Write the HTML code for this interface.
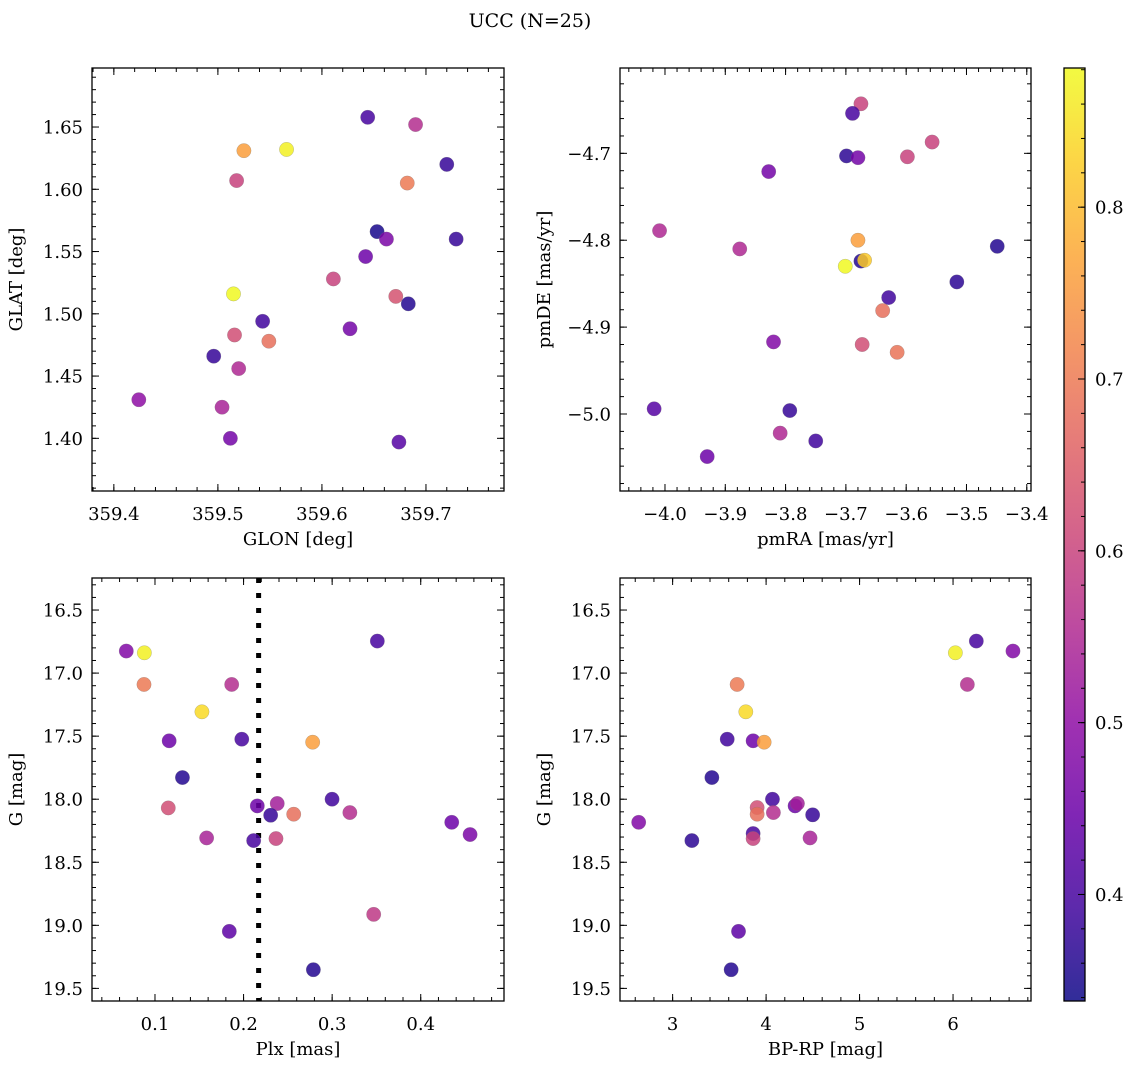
<!DOCTYPE html>
<html><head><meta charset="utf-8"><style>
html,body{margin:0;padding:0;background:#fff;}
svg{display:block;font-family:"DejaVu Serif","Liberation Serif",serif;}
</style></head><body>
<svg id="fig" width="1136" height="1068" viewBox="0 0 1136 1068" xmlns="http://www.w3.org/2000/svg">
<text x="530" y="27" font-size="19" text-anchor="middle">UCC (N=25)</text>
</svg>
<script>
// ---- Panel 1: GLON vs GLAT
const glonTL = [359.644,359.690,359.525,359.566,359.720,359.518,359.682,359.653,359.662,359.729,359.642,359.611,359.515,359.671,359.683,359.543,359.627,359.516,359.549,359.496,359.520,359.424,359.504,359.512,359.674];
const glatTL = [1.6578,1.652,1.631,1.632,1.620,1.607,1.605,1.566,1.560,1.560,1.546,1.528,1.516,1.514,1.508,1.494,1.488,1.483,1.478,1.466,1.456,1.431,1.425,1.400,1.397];
const colTL  = [0.40,0.56,0.76,0.87,0.38,0.60,0.70,0.35,0.47,0.38,0.45,0.60,0.88,0.63,0.36,0.39,0.46,0.62,0.68,0.38,0.55,0.50,0.54,0.46,0.42];
// ---- Panel 2: pmRA vs pmDE
const pmraTR = [-3.675,-3.689,-3.557,-3.699,-3.680,-3.598,-3.828,-4.009,-3.876,-3.680,-3.675,-3.669,-3.701,-3.449,-3.516,-3.629,-3.639,-3.820,-3.673,-3.615,-4.018,-3.793,-3.809,-3.750,-3.930];
const pmdeTR = [-4.643,-4.654,-4.687,-4.703,-4.705,-4.704,-4.721,-4.789,-4.810,-4.800,-4.824,-4.823,-4.830,-4.807,-4.848,-4.866,-4.881,-4.917,-4.920,-4.929,-4.994,-4.996,-5.022,-5.031,-5.049];
const colTR  = [0.60,0.40,0.60,0.37,0.46,0.60,0.46,0.55,0.55,0.76,0.36,0.82,0.88,0.36,0.37,0.39,0.68,0.48,0.62,0.69,0.42,0.38,0.55,0.39,0.45];
// ---- Panel 3: Plx vs G
const plxBL = [0.0676,0.088,0.0876,0.1866,0.153,0.116,0.198,0.278,0.351,0.131,0.115,0.2155,0.238,0.2306,0.2566,0.2999,0.320,0.1583,0.2114,0.2366,0.435,0.4557,0.3469,0.1839,0.2788];
const gBL   = [16.825,16.839,17.090,17.090,17.307,17.537,17.524,17.548,16.746,17.828,18.069,18.053,18.034,18.127,18.119,18.0,18.106,18.307,18.328,18.312,18.183,18.280,18.913,19.048,19.352];
const colBL = [0.48,0.87,0.70,0.56,0.84,0.45,0.40,0.76,0.40,0.36,0.62,0.45,0.53,0.38,0.68,0.39,0.56,0.54,0.40,0.60,0.45,0.47,0.58,0.43,0.36];
const plxLine = [0.217];
// ---- Panel 4: BP-RP vs G
const bprpBR = [2.637,3.206,3.420,3.584,3.690,3.783,3.861,3.979,3.705,3.626,3.861,3.861,3.904,3.904,4.068,4.078,4.310,4.335,4.498,4.470,6.025,6.249,6.641,6.153];
const gBR    = [18.183,18.328,17.828,17.524,17.090,17.307,17.537,17.548,19.048,19.352,18.272,18.312,18.066,18.119,18.0,18.106,18.053,18.034,18.124,18.307,16.839,16.746,16.825,17.090];
const colBR  = [0.48,0.37,0.36,0.39,0.70,0.84,0.45,0.76,0.43,0.36,0.40,0.60,0.62,0.68,0.39,0.56,0.45,0.53,0.38,0.54,0.87,0.40,0.48,0.56];
// ---- Tick labels
const ticksTLx = [359.4,359.5,359.6,359.7];
const ticksTLy = [1.40,1.45,1.50,1.55,1.60,1.65];
const ticksTRx = [-4.0,-3.9,-3.8,-3.7,-3.6,-3.5,-3.4];
const ticksTRy = [-5.0,-4.9,-4.8,-4.7];
const ticksBLx = [0.1,0.2,0.3,0.4];
const ticksGy  = [16.5,17.0,17.5,18.0,18.5,19.0,19.5];
const ticksBRx = [3,4,5,6];
const ticksCB  = [0.4,0.5,0.6,0.7,0.8];

const NS = "http://www.w3.org/2000/svg";
const svg = document.getElementById('fig');
const FS = 18;
function mk(tag, attrs, parent){ const e=document.createElementNS(NS,tag); for(const k in attrs) e.setAttribute(k,attrs[k]); (parent||svg).appendChild(e); return e; }
const VMIN=0.338, VMAX=0.881;
const plasma=[[13,8,135],[65,4,157],[106,0,168],[143,13,164],[177,42,144],[204,71,120],[225,100,98],[242,132,75],[252,166,54],[252,206,37],[240,249,33]];
function cmap(v){ let t=(v-VMIN)/(VMAX-VMIN); t=Math.max(0,Math.min(1,t))*10; const i=Math.min(9,Math.floor(t)), f=t-i; const a=plasma[i],b=plasma[i+1]; return `rgb(${a.map((c,k)=>Math.round(c+(b[k]-c)*f)).join(',')})`; }
function fmt(v,d){ return (v<0?'\u2212':'')+Math.abs(v).toFixed(d); }

function panel(o){
  const g=mk('g',{});
  
  
  const X=v=>o.L+(v-o.x0)/(o.x1-o.x0)*(o.R-o.L);
  const Y=v=>o.inv ? o.T+(v-o.y0)/(o.y1-o.y0)*(o.B-o.T) : o.B-(v-o.y0)/(o.y1-o.y0)*(o.B-o.T);
  const tk=mk('g',{stroke:'#000','stroke-width':1},g);
  
  
  for(let v=Math.ceil(o.x0/o.xm-1e-6)*o.xm; v<=o.x1; v+=o.xm){ const x=X(v); mk('line',{x1:x,x2:x,y1:o.B,y2:o.B-4},tk); mk('line',{x1:x,x2:x,y1:o.T,y2:o.T+4},tk); }
  for(let v=Math.ceil(Math.min(o.y0,o.y1)/o.ym-1e-6)*o.ym; v<=Math.max(o.y0,o.y1); v+=o.ym){ const y=Y(v); mk('line',{x1:o.L,x2:o.L+4,y1:y,y2:y},tk); mk('line',{x1:o.R,x2:o.R-4,y1:y,y2:y},tk); }
  o.xt.forEach(v=>{ const x=X(v); mk('line',{x1:x,x2:x,y1:o.B,y2:o.B-7},tk); mk('line',{x1:x,x2:x,y1:o.T,y2:o.T+7},tk);
    const t=mk('text',{x:x,y:o.B+29,'font-size':FS,'text-anchor':'middle'},g); t.textContent=fmt(v,o.xd);
      });
  o.yt.forEach(v=>{ const y=Y(v); mk('line',{x1:o.L,x2:o.L+7,y1:y,y2:y},tk); mk('line',{x1:o.R,x2:o.R-7,y1:y,y2:y},tk);
    const t=mk('text',{x:o.L-9,y:y+6.5,'font-size':FS,'text-anchor':'end'},g); t.textContent=fmt(v,o.yd);
      });
  if(o.vline){ o.vline.forEach(v=>{ const l=mk('line',{x1:X(v),x2:X(v),y1:o.T,y2:o.B,stroke:'#000','stroke-width':5,'stroke-dasharray':'5 10'},g);
      }); }
  const pts=mk('g',{},g);
  
  
  o.xs.forEach((xv,i)=>{ const c=mk('circle',{cx:X(xv),cy:Y(o.ys[i]),r:7.2,fill:cmap(o.cs[i]),'fill-opacity':0.85,stroke:'#777','stroke-width':0.4,'stroke-opacity':0.6},pts);
      });
  const f=mk('rect',{x:o.L,y:o.T,width:o.R-o.L,height:o.B-o.T,fill:'none',stroke:'#000','stroke-width':1.3},g);
   
  const xl=mk('text',{x:(o.L+o.R)/2,y:o.B+54,'font-size':FS,'text-anchor':'middle'},g); xl.textContent=o.xlab;
   
  const yx=o.L-o.ylo, yy=(o.T+o.B)/2;
  const yl=mk('text',{x:yx,y:yy,'font-size':FS,'text-anchor':'middle',transform:`rotate(-90 ${yx} ${yy})`},g); yl.textContent=o.ylab;
   
}
panel({name:'glon-glat-panel',L:92,R:504,T:68,B:491,x0:359.379,x1:359.775,y0:1.3577,y1:1.6974,xm:0.02,ym:0.01,xt:ticksTLx,yt:ticksTLy,xd:1,yd:2,xs:glonTL,ys:glatTL,cs:colTL,xlab:'GLON [deg]',ylab:'GLAT [deg]',ylo:70});
panel({name:'pm-panel',L:620,R:1031,T:68,B:491,x0:-4.0746,x1:-3.393,y0:-5.0886,y1:-4.6018,xm:0.02,ym:0.02,xt:ticksTRx,yt:ticksTRy,xd:1,yd:1,xs:pmraTR,ys:pmdeTR,cs:colTR,xlab:'pmRA [mas/yr]',ylab:'pmDE [mas/yr]',ylo:70});
panel({name:'plx-g-panel',L:92,R:504,T:578,B:1001,x0:0.0289,x1:0.494,y0:16.246,y1:19.60,inv:true,xm:0.02,ym:0.1,xt:ticksBLx,yt:ticksGy,xd:1,yd:1,xs:plxBL,ys:gBL,cs:colBL,xlab:'Plx [mas]',ylab:'G [mag]',ylo:70,vline:plxLine});
panel({name:'cmd-panel',L:620,R:1031,T:578,B:1001,x0:2.437,x1:6.834,y0:16.246,y1:19.60,inv:true,xm:0.2,ym:0.1,xt:ticksBRx,yt:ticksGy,xd:0,yd:1,xs:bprpBR,ys:gBR,cs:colBR,xlab:'BP-RP [mag]',ylab:'G [mag]',ylo:70});

// ---- Colorbar
(function(){
  const L=1064,R=1085,T=68,B=1001;
  const g=mk('g',{});
  
  
  const defs=mk('defs',{},g);
  const lg=mk('linearGradient',{id:'cbg',x1:0,y1:1,x2:0,y2:0},defs);
  for(let i=0;i<=20;i++){ const v=VMIN+(VMAX-VMIN)*i/20; mk('stop',{offset:(i/20),'stop-color':cmap(v),'stop-opacity':0.85},lg); }
  mk('rect',{x:L,y:T,width:R-L,height:B-T,fill:'url(#cbg)'},g);
  const Y=v=>B-(v-VMIN)/(VMAX-VMIN)*(B-T);
  for(let v=0.34; v<=VMAX; v+=0.02){ mk('line',{x1:R,x2:R-4,y1:Y(v),y2:Y(v),stroke:'#000','stroke-width':1},g); }
  ticksCB.forEach(v=>{ const y=Y(v); mk('line',{x1:R,x2:R-7,y1:y,y2:y,stroke:'#000','stroke-width':1},g);
    const t=mk('text',{x:R+10,y:y+6.5,'font-size':FS},g); t.textContent=v.toFixed(1);
      });
  mk('rect',{x:L,y:T,width:R-L,height:B-T,fill:'none',stroke:'#000','stroke-width':1.3},g);
})();
</script>
</body></html>
